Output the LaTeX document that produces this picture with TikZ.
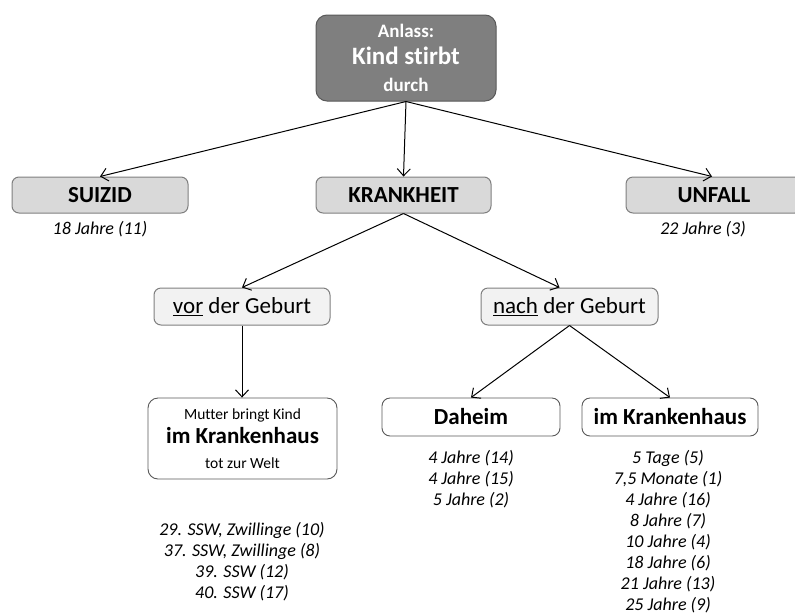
\documentclass[tikz,border=0pt]{standalone}
\usepackage{fontspec}
\setmainfont{Carlito}[Ligatures=NoCommon]
\usepackage{tikz}
\usetikzlibrary{arrows.meta, positioning}
\definecolor{topgray}{HTML}{7F7F7F}
\definecolor{catgray}{HTML}{D9D9D9}
\definecolor{subgray}{HTML}{F2F2F2}
\definecolor{linegray}{HTML}{595959}
\tikzstyle{topbox} = [rectangle, rounded corners=11pt, minimum width=180pt, minimum height=86pt, align=center, inner sep=0pt, draw=linegray, line width=1pt, fill=topgray, text=white, font=\fontsize{19}{27}\selectfont\bfseries]
\tikzstyle{catbox} = [rectangle, rounded corners=7pt, minimum width=176pt, minimum height=36pt, align=center, inner sep=0pt, draw=topgray, line width=1pt, fill=catgray, font=\fontsize{23}{26}\selectfont\bfseries]
\tikzstyle{subbox} = [rectangle, rounded corners=7pt, minimum width=176pt, minimum height=37pt, align=center, inner sep=0pt, draw=topgray, line width=1pt, fill=subgray, font=\fontsize{23}{26}\selectfont]
\tikzstyle{leafbox} = [rectangle, rounded corners=8pt, minimum width=177pt, minimum height=38pt, align=center, inner sep=0pt, draw=linegray, line width=0.9pt, fill=white, font=\fontsize{23}{26}\selectfont\bfseries]
\tikzstyle{agelist} = [align=center, inner sep=0pt, font=\fontsize{18}{21}\selectfont\itshape]
\tikzstyle{arrow} = [line width=1pt, -{Straight Barb[length=7pt, width=13pt]}]

\begin{document}
\begin{tikzpicture}[x=1pt, y=-1pt]
  \useasboundingbox (0,0) rectangle (795,614);

  % Anlass
  \node[topbox] (anlass) at (406,58) {Anlass:\\{\fontsize{25}{27}\selectfont Kind stirbt}\\durch};

  % Ebene 1
  \node[catbox] (suizid) at (100,195) {SUIZID};
  \node[catbox, minimum width=175pt] (krankheit) at (403.5,195) {KRANKHEIT};
  \node[catbox] (unfall) at (714,195) {UNFALL};
  \node[agelist] (suizidlist) at (100,229) {18 Jahre (11)};
  \node[agelist] (unfalllist) at (703,229) {22 Jahre (3)};

  % Ebene 2
  \node[subbox] (vor) at (242,306.5) {\underline{vor} der Geburt};
  \node[subbox, minimum width=177pt] (nach) at (569.5,306.5) {\underline{nach} der Geburt};

  % Ebene 3
  \node[leafbox, minimum width=189pt, minimum height=81pt, rounded corners=10pt,
        font=\fontsize{15.5}{24.5}\selectfont] (mutter) at (242.5,438.5)
    {Mutter bringt Kind\\{\bfseries\fontsize{23}{24}\selectfont im Krankenhaus}\\tot zur Welt};
  \node[leafbox, minimum width=178pt] (daheim) at (471,417) {Daheim};
  \node[leafbox, minimum width=176pt] (klinik) at (670,417) {im Krankenhaus};

  % Listen
  \node[agelist] (mutterlist) at (242,561.5) {29. SSW, Zwillinge (10)\\37. SSW, Zwillinge (8)\\39. SSW (12)\\40. SSW (17)};
  \node[agelist] (daheimlist) at (471,479) {4 Jahre (14)\\4 Jahre (15)\\5 Jahre (2)};
  \node[agelist] (kliniklist) at (668,531.5) {5 Tage (5)\\7,5 Monate (1)\\4 Jahre (16)\\8 Jahre (7)\\10 Jahre (4)\\18 Jahre (6)\\21 Jahre (13)\\25 Jahre (9)};

  % Pfeile
  \draw[arrow] (anlass.south) -- (suizid.north);
  \draw[arrow] (anlass.south) -- (krankheit.north);
  \draw[arrow] (anlass.south) -- ([xshift=-2pt]unfall.north);
  \draw[arrow] (krankheit.south) -- (vor.north);
  \draw[arrow] (krankheit.south) -- ([xshift=-10pt]nach.north);
  \draw[arrow] (vor.south) -- (mutter.north -| vor.south);
  \draw[arrow] (nach.south) -- (daheim.north);
  \draw[arrow] (nach.south) -- (klinik.north);
\end{tikzpicture}
\end{document}
